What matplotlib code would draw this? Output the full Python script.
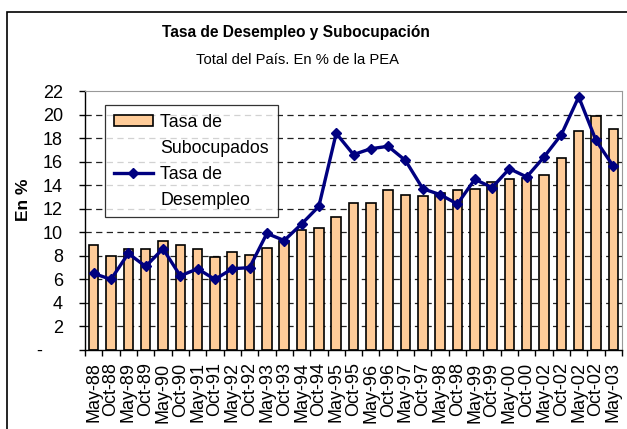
import numpy as np
import matplotlib
matplotlib.use('Agg')
import matplotlib.pyplot as plt
from matplotlib.patches import Rectangle, Patch

plt.rcParams['font.family'] = ['Liberation Sans', 'DejaVu Sans']

periodos = ['May-88', 'Oct-88', 'May-89', 'Oct-89', 'May-90', 'Oct-90', 'May-91', 'Oct-91',
            'May-92', 'Oct-92', 'May-93', 'Oct-93', 'May-94', 'Oct-94', 'May-95', 'Oct-95',
            'May-96', 'Oct-96', 'May-97', 'Oct-97', 'May-98', 'Oct-98', 'May-99', 'Oct-99',
            'May-00', 'Oct-00', 'May-02', 'Oct-02', 'May-02', 'Oct-02', 'May-03']
subocupados = [8.9, 8.0, 8.6, 8.6, 9.3, 8.9, 8.6, 7.9, 8.3, 8.1, 8.7, 9.3, 10.2, 10.4, 11.3, 12.5,
               12.5, 13.6, 13.2, 13.1, 13.3, 13.6, 13.7, 14.3, 14.5, 14.6, 14.9, 16.3, 18.6, 19.9, 18.8]
desempleo = [6.5, 6.0, 8.2, 7.1, 8.6, 6.3, 6.9, 6.0, 6.9, 7.0, 9.9, 9.3, 10.7, 12.2, 18.4, 16.6,
             17.1, 17.3, 16.1, 13.7, 13.2, 12.4, 14.5, 13.8, 15.4, 14.7, 16.4, 18.3, 21.5, 17.8, 15.6]
yticks = [0, 2, 4, 6, 8, 10, 12, 14, 16, 18, 20, 22]
ytick_labels = ['-    '] + [str(v) for v in yticks[1:]]

W, H = 627, 429
fig = plt.figure(figsize=(W / 100, H / 100), dpi=100)
ax = fig.add_axes([85 / W, 1 - 350 / H, (622 - 85) / W, (350 - 91) / H])

x = np.arange(len(periodos))
bars = ax.bar(x, subocupados, width=0.55, color='#FFCC99', edgecolor='black', linewidth=1.2,
              zorder=2)
line, = ax.plot(x, desempleo, color='#000080', lw=2.4, marker='D', markersize=5, zorder=3)

ax.set_xlim(-0.5, len(periodos) - 0.5)
ax.set_ylim(0, 22)
ax.set_yticks(yticks)
ax.set_yticklabels(ytick_labels, fontsize=13)
ax.set_xticks(x)
ax.set_xticklabels(periodos, rotation=90, fontsize=13)
ax.set_xticks(np.arange(len(periodos) + 1) - 0.5, minor=True)
ax.tick_params(axis='x', which='major', length=0, pad=9)
ax.tick_params(axis='x', which='minor', length=4, width=1, direction='out')
ax.tick_params(axis='y', length=4, width=1, direction='out', pad=12)

for v in yticks[1:-1]:
    ax.axhline(v, color='#222222', lw=0.9, ls=(0, (5, 3.5)), zorder=1)

for s in ['top', 'right']:
    ax.spines[s].set_color('#999999')
for s in ['left', 'bottom']:
    ax.spines[s].set_linewidth(1.0)

# legend: handle next to the first line of each two-line label
blank = Patch(facecolor='none', edgecolor='none')
leg = ax.legend([bars, blank, line, blank],
                ['Tasa de', 'Subocupados', 'Tasa de', 'Desempleo'],
                loc='upper left', bbox_to_anchor=((105 - 85) / 537, (350 - 105) / 259),
                borderaxespad=0, fontsize=12.8, frameon=True, fancybox=False,
                handlelength=2.2, handletextpad=0.4, borderpad=0.5, labelspacing=0.5,
                handleheight=0.55)
leg.get_frame().set_edgecolor('black')
leg.get_frame().set_linewidth(0.9)

fig.text(296 / W, 1 - 33 / H, 'Tasa de Desempleo y Subocupación', ha='center', va='center',
         fontsize=11.2, fontweight='bold')
fig.text(297 / W, 1 - 60 / H, 'Total del País. En % de la PEA', ha='center', va='center',
         fontsize=10.6)
fig.text(23 / W, 1 - 200 / H, 'En %', rotation=90, ha='center', va='center',
         fontsize=12.5, fontweight='bold')

fig.add_artist(Rectangle((7 / W, -0.1), 1.5, 1 - 12 / H + 0.1, transform=fig.transFigure,
                         fill=False, ec='black', lw=1.2))

fig.savefig('out.png', dpi=100)
